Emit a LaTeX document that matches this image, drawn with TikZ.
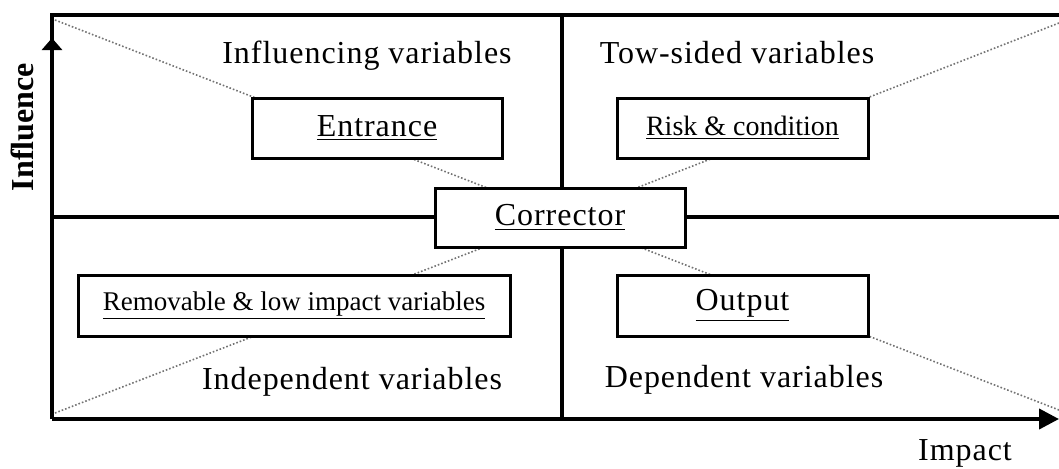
\documentclass[tikz,border=0pt]{standalone}
\usepackage{fontspec}
\setmainfont{Liberation Serif}
\usetikzlibrary{arrows.meta}

\begin{document}
\begin{tikzpicture}[x=0.5pt,y=-0.5pt,
  box/.style={rectangle,draw,line width=1.5pt,fill=white,inner sep=0pt,font=\fontsize{16}{19}\selectfont\addfontfeature{LetterSpace=3}},
  axis/.style={line width=2pt},
  diag/.style={black!55,densely dotted,line width=0.8pt},
  lbl/.style={anchor=base,font=\fontsize{16}{19}\selectfont\addfontfeature{LetterSpace=3}}]

\useasboundingbox (0,0) rectangle (1059,468);

% corners and centre of the chart
\coordinate (origin) at (52,419);
\coordinate (top) at (52,15);
\coordinate (topr) at (1059,15);
\coordinate (yend) at (52,38);
\coordinate (xend) at (1059,419);
\coordinate (midl) at (52,217);
\coordinate (midr) at (1059,217);
\coordinate (midt) at (562,15);
\coordinate (midb) at (562,419);
\coordinate (centre) at (562,217);

% dotted diagonals
\coordinate (tl) at (55,20);
\coordinate (tr) at (1059,23);
\coordinate (bl) at (55,413);
\coordinate (br) at (1059,410);
\draw[diag] (tl) -- (centre);
\draw[diag] (tr) -- (centre);
\draw[diag] (bl) -- (centre);
\draw[diag] (br) -- (centre);

% frame and quadrant lines
\draw[axis] (origin) -- (top) -- (topr);
\draw[axis] (midl) -- (midr);
\draw[axis] (midt) -- (midb);

% axes
\draw[axis,-{Triangle[length=6pt,width=10pt]}] (origin) -- (yend);
\draw[axis,-{Triangle[length=10pt,width=10pt]}] (origin) -- (xend);

% axis labels
\node[anchor=base,rotate=90,font=\fontsize{16}{19}\selectfont\bfseries] (influence) at (33,127) {Influence};
\node[lbl] (impact) at (965,460) {Impact};

% quadrant labels
\node[lbl] (influencing) at (367,63) {Influencing variables};
\node[lbl] (twosided) at (737,63) {Tow-sided variables};
\node[lbl] (independent) at (352,389) {Independent variables};
\node[lbl] (dependent) at (744,387) {Dependent variables};

% boxes
\node[box,minimum width=125pt,minimum height=30pt] (entrance) at (377,128) {\underline{Entrance}};
\node[box,minimum width=125.5pt,minimum height=30pt,font=\fontsize{14}{17}\selectfont] (risk) at (742.5,128) {\underline{Risk \& condition}};
\node[box,minimum width=125pt,minimum height=29.5pt] (corrector) at (560,217.5) {\underline{Corrector}};
\node[box,minimum width=216pt,minimum height=30.5pt,font=\fontsize{13.5}{16}\selectfont] (removable) at (294,305.5) {\underline{Removable \& low impact variables}};
\node[box,minimum width=125.5pt,minimum height=30.5pt] (output) at (742.5,305.5) {\underline{Output}};

\end{tikzpicture}
\end{document}
